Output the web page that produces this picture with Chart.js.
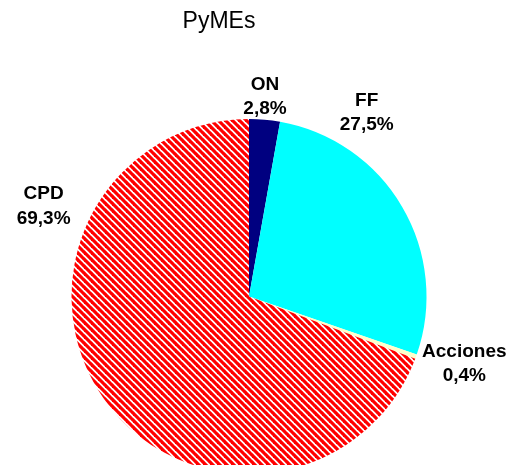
<!DOCTYPE html>
<html>
<head>
<meta charset="utf-8">
<script src="https://cdn.jsdelivr.net/npm/chart.js@4/dist/chart.umd.min.js"></script>
<style>
    html, body { margin: 0; padding: 0; background: #fff; overflow: hidden; }
    #wrap { position: relative; width: 519px; height: 474px; }
</style>
</head>
<body>
<div id="wrap"><canvas id="chart" width="519" height="474"></canvas></div>
<script>
const titleText = 'PyMEs';

const categories = ['ON', 'FF', 'Acciones', 'CPD'];
const shares = [2.8, 27.5, 0.4, 69.3];

// where each label sits, in units of the pie radius from its centre
const labelSpots = [
    [0.090, -1.135],
    [0.663, -1.045],
    [1.213, 0.371],
    [-1.157, -0.517],
];

const labelFont = 'bold 19px "Liberation Sans", Arial, sans-serif';

function stripes() {
    const s = 7;
    const c = document.createElement('canvas');
    c.width = s;
    c.height = s;
    const g = c.getContext('2d');
    g.fillStyle = '#ffffff';
    g.fillRect(0, 0, s, s);
    g.strokeStyle = '#ff0000';
    g.lineWidth = 3.2;
    for (let k = -1; k <= 1; k++) {
        g.beginPath();
        g.moveTo(-1 + k * s, -1);
        g.lineTo(s + 1 + k * s, s + 1);
        g.stroke();
    }
    return g.createPattern(c, 'repeat');
}

const sliceLabels = {
    id: 'sliceLabels',
    afterDraw(chart) {
        const ctx = chart.ctx;
        const arcs = chart.getDatasetMeta(0).data;
        ctx.save();
        ctx.fillStyle = '#000';
        ctx.textAlign = 'center';
        ctx.textBaseline = 'alphabetic';

        // title
        ctx.font = '23px "Liberation Sans", Arial, sans-serif';
        ctx.fillText(titleText, 219, 28);

        ctx.font = labelFont;
        arcs.forEach((arc, i) => {
            const r = arc.outerRadius;
            const x = arc.x + labelSpots[i][0] * r;
            const y = arc.y + labelSpots[i][1] * r;
            const pct = shares[i].toFixed(1).replace('.', ',') + '%';
            ctx.fillText(categories[i], x, y - 12.3 + 6.8);
            ctx.fillText(pct, x, y + 12.3 + 6.8);
        });
        ctx.restore();
    }
};

new Chart(document.getElementById('chart'), {
    type: 'pie',
    data: {
        labels: categories,
        datasets: [{
            data: shares,
            backgroundColor: ['#000080', '#00ffff', '#ffffcc', stripes()],
            borderWidth: 0,
            hoverOffset: 0,
        }]
    },
    options: {
        responsive: false,
        animation: false,
        layout: {
            padding: { top: 119, left: 0, right: 21, bottom: 0 }
        },
        plugins: {
            legend: { display: false },
            title: { display: false },
            tooltip: { enabled: false }
        }
    },
    plugins: [sliceLabels]
});
</script>
</body>
</html>
